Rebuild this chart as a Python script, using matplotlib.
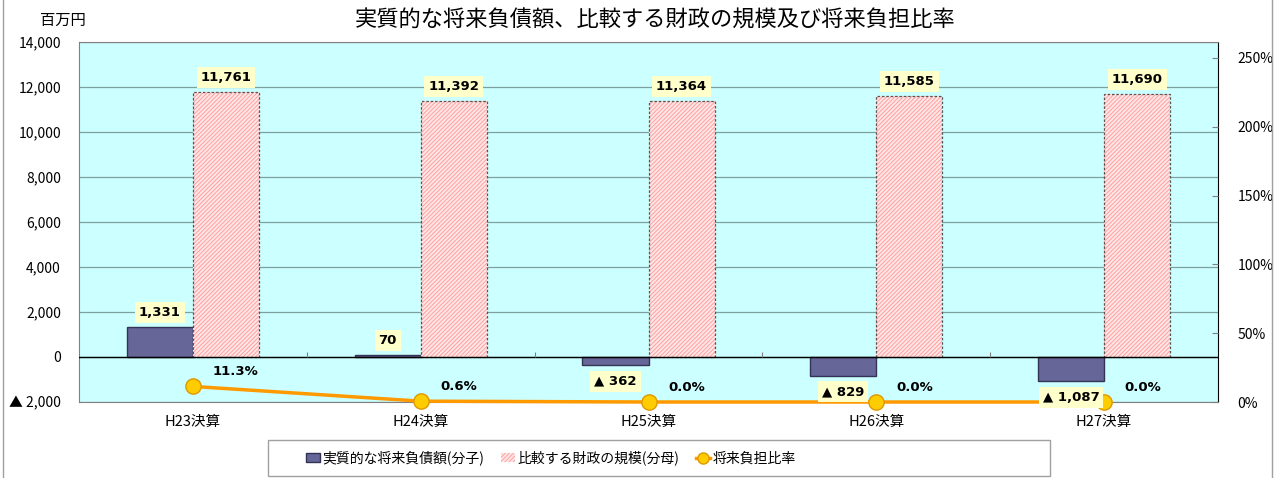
import matplotlib
matplotlib.use("Agg")
import matplotlib.pyplot as plt
from matplotlib.patches import Patch, Rectangle
from matplotlib.lines import Line2D
from matplotlib.ticker import FuncFormatter, MultipleLocator
import numpy as np

plt.rcParams['font.family'] = ['Noto Sans CJK JP', 'DejaVu Sans']
plt.rcParams['hatch.linewidth'] = 0.7

categories = ["H23決算", "H24決算", "H25決算", "H26決算", "H27決算"]
numerator = [1331, 70, -362, -829, -1087]        # 実質的な将来負債額(分子)
denominator = [11761, 11392, 11364, 11585, 11690]  # 比較する財政の規模(分母)
ratio = [11.3, 0.6, 0.0, 0.0, 0.0]                # 将来負担比率 (%)
series_names = ["実質的な将来負債額(分子)", "比較する財政の規模(分母)", "将来負担比率"]
title = "実質的な将来負債額、比較する財政の規模及び将来負担比率"

lbl_font = dict(family=['DejaVu Sans'], fontsize=9.5, fontweight='heavy')

W, H = 1276, 478
fig = plt.figure(figsize=(W / 100, H / 100), dpi=100)
L, R, T, B = 79, 1218, 42, 402
ax = fig.add_axes([L / W, 1 - B / H, (R - L) / W, (B - T) / H])
ax.set_facecolor('#CCFFFF')

x = np.arange(len(categories))
bw = 0.29
navy = '#666699'
pink_face = '#FFE6E6'
pink_hatch = '#FF9F9F'
ax.bar(x - bw / 2, numerator, bw, color=navy, edgecolor='#333355', linewidth=1.0, zorder=3)
ax.bar(x + bw / 2, denominator, bw, color=pink_face, edgecolor=pink_hatch, hatch='////////',
       linewidth=0, zorder=3)
ax.bar(x + bw / 2, denominator, bw, fill=False, edgecolor='#555555', linestyle=(0, (2, 1.5)),
       linewidth=0.9, zorder=4)

ax.set_xlim(-0.5, len(categories) - 0.5)
ax.set_ylim(-2000, 14000)
ax.yaxis.set_major_locator(MultipleLocator(2000))

def yfmt(v, pos):
    if v < 0:
        return "▲ {:,.0f}".format(-v)
    return "{:,.0f}".format(v)

ax.yaxis.set_major_formatter(FuncFormatter(yfmt))
ax.grid(axis='y', color='#7FA0A0', linewidth=0.9, zorder=1)
ax.set_axisbelow(True)
ax.axhline(0, color='black', linewidth=1.0, zorder=5)
ax.vlines(x[:-1] + 0.5, 0, 220, color='#808080', linewidth=0.8, zorder=5)
ax.set_xticks(x)
ax.set_xticklabels(categories, fontsize=10.5)
ax.tick_params(axis='x', length=0, pad=9)
ax.tick_params(axis='y', length=0, pad=13, labelsize=10)
for s in ['left', 'top', 'bottom']:
    ax.spines[s].set_color('#808080')
ax.spines['right'].set_color('black')

ax2 = ax.twinx()
ax2.set_ylim(0, 261.6)
ax2.yaxis.set_major_locator(MultipleLocator(50))
ax2.yaxis.set_major_formatter(FuncFormatter(lambda v, p: "{:.0f}%".format(v)))
ax2.tick_params(axis='y', direction='in', length=4, pad=14, labelsize=10, color='#808080')
ax2.plot(x, ratio, color='#FF9900', linewidth=2.5, marker='o', markersize=11,
         markerfacecolor='#FFCC00', markeredgecolor='#DD9900', markeredgewidth=1,
         zorder=5, clip_on=False)
for s in ax2.spines.values():
    s.set_visible(False)

lbl_box = dict(boxstyle='square,pad=0.3', facecolor='#FFFFCC', edgecolor='none')
for i, v in enumerate(numerator):
    txt = "{:,}".format(v) if v >= 0 else "▲ {:,}".format(-v)
    off = 15 if v >= 0 else -16
    ax2.annotate(txt, xy=(x[i] - bw / 2, v), xycoords=ax.transData, xytext=(0, off * 0.72),
                 textcoords='offset points', ha='center', va='center',
                 bbox=lbl_box, zorder=10, annotation_clip=False, **lbl_font)
for i, v in enumerate(denominator):
    ax2.annotate("{:,}".format(v), xy=(x[i] + bw / 2, v), xycoords=ax.transData,
                 xytext=(0, 14.5 * 0.72), textcoords='offset points', ha='center', va='center',
                 bbox=lbl_box, zorder=10, **lbl_font)
for i, v in enumerate(ratio):
    ax2.annotate("{:.1f}%".format(v), xy=(x[i], v), xytext=(20 * 0.72, 15 * 0.72),
                 textcoords='offset points', ha='left', va='center',
                 zorder=10, annotation_clip=False, **lbl_font)

fig.text(40 / W, 1 - 20 / H, "百万円", fontsize=11, ha='left', va='center')
fig.text(655 / W, 1 - 20 / H, title, fontsize=16, ha='center', va='center')

handles = [
    Patch(facecolor=navy, edgecolor='#333355', linewidth=1),
    Patch(facecolor=pink_face, edgecolor=pink_hatch, hatch='////////', linewidth=0),
    Line2D([], [], color='#FF9900', linewidth=2.5, marker='o', markersize=8,
           markerfacecolor='#FFCC00', markeredgecolor='#DD9900'),
]
fig.legend(handles, series_names, loc='center left', bbox_to_anchor=(306 / W, 1 - 458 / H),
           ncol=3, frameon=False, fontsize=10, handlelength=1.0, handleheight=0.7,
           handletextpad=0.2, columnspacing=1.2, borderpad=0, borderaxespad=0)
fig.patches.append(Rectangle((268 / W, 1 - 476 / H), (1050 - 268) / W, 36 / H,
                             transform=fig.transFigure, fill=False, edgecolor='#A0A0A0',
                             linewidth=1))
fig.lines.append(Line2D([3 / W, 3 / W], [0, 1], transform=fig.transFigure, color='#A0A0A0', lw=1))
fig.lines.append(Line2D([1272 / W, 1272 / W], [0, 1], transform=fig.transFigure, color='#A0A0A0', lw=1))

fig.savefig("out.png", dpi=100)
